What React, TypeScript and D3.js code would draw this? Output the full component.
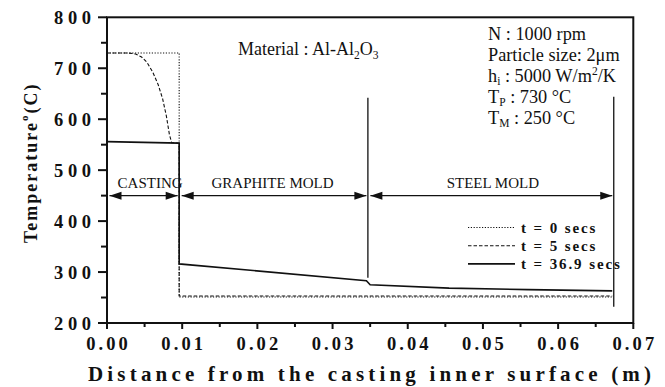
import React from "react";
import * as d3 from "d3";

// Temperature profiles across casting + graphite mold + steel mold
const t0X = [0, 0.0096, 0.0096, 0.0672];
const t0T = [730, 730, 251, 251];

const t5X = [0, 0.0028, 0.0038, 0.0046, 0.0053, 0.0061, 0.0068, 0.0074, 0.0079, 0.0083, 0.0086, 0.0096, 0.0096, 0.0672];
const t5T = [730, 730, 728, 722, 712, 692, 668, 640, 606, 570, 554, 553, 253, 253];

const t36X = [0, 0.0096, 0.0096, 0.0345, 0.035, 0.0455, 0.056, 0.0672];
const t36T = [556, 553, 316, 283, 275, 268.5, 265.5, 263];

const seriesLabels = ["t = 0 secs", "t = 5 secs", "t = 36.9 secs"];

// Region bands (m) and arrow level (°C)
const regionNames = ["CASTING", "GRAPHITE MOLD", "STEEL MOLD"];
const regionStart = [0, 0.0096, 0.0347];
const regionEnd = [0.0096, 0.0347, 0.0674];
const regionLabelShift = [7, -1, 2];
const arrowTemp = 450;

// Interface marker lines
const boundaryX = [0.0347, 0.0674];
const boundaryTop = [642, 644];
const boundaryBottom = [289, 232];

const xTicks = [0, 0.01, 0.02, 0.03, 0.04, 0.05, 0.06, 0.07];
const xMinor = [0.005, 0.015, 0.025, 0.035, 0.045, 0.055, 0.065];
const yTicks = [200, 300, 400, 500, 600, 700, 800];
const yMinor = [250, 350, 450, 550, 650, 750];

const SERIF = "Liberation Serif, Tinos, Times New Roman, DejaVu Serif, serif";

export default function App() {
  const W = 665, H = 387;
  const left = 107, right = 633.3, top = 17.3, bottom = 323;
  const x = d3.scaleLinear().domain([0, 0.07]).range([left, right]);
  const y = d3.scaleLinear().domain([200, 800]).range([bottom, top]);

  const line = d3.line<[number, number]>().x(d => x(d[0])).y(d => y(d[1]));
  const mk = (xs: number[], ts: number[]) => xs.map((v, i) => [v, ts[i]] as [number, number]);

  const series = [
    { d: line(mk(t0X, t0T)), dash: "1.2,1.6", w: 1.1 },
    { d: line(mk(t5X, t5T)), dash: "3.5,2", w: 1.1 },
    { d: line(mk(t36X, t36T)), dash: undefined, w: 1.6 },
  ];

  const ay = y(arrowTemp);
  const ah = 12, aw = 4;

  return (
    <svg width={W} height={H} style={{ position: "absolute", left: 0, top: 0, background: "#fff", fontFamily: SERIF }}>
      {/* frame */}
      <rect x={left} y={top} width={right - left} height={bottom - top} fill="none" stroke="#111" strokeWidth={2} />

      {/* y ticks */}
      {yTicks.map(t => (
        <g key={"yt" + t}>
          <line x1={left - 9} x2={left} y1={y(t)} y2={y(t)} stroke="#111" strokeWidth={2} />
          <text x={91} y={y(t) + 6.5} textAnchor="end" fontWeight="bold" fontSize={18.5}
            textLength={37} lengthAdjust="spacing" fill="#111">{t}</text>
        </g>
      ))}
      {yMinor.map(t => (
        <line key={"ym" + t} x1={left - 6} x2={left} y1={y(t)} y2={y(t)} stroke="#111" strokeWidth={2} />
      ))}

      {/* x ticks */}
      {xTicks.map(t => (
        <g key={"xt" + t}>
          <line x1={x(t)} x2={x(t)} y1={bottom} y2={bottom + 6} stroke="#111" strokeWidth={2} />
          <text x={x(t)} y={350} textAnchor="middle" fontWeight="bold" fontSize={18.5}
            textLength={41.7} lengthAdjust="spacing" fill="#111">{d3.format(".2f")(t)}</text>
        </g>
      ))}
      {xMinor.map(t => (
        <line key={"xm" + t} x1={x(t)} x2={x(t)} y1={bottom} y2={bottom + 4} stroke="#111" strokeWidth={2} />
      ))}

      {/* axis titles */}
      <text x={88} y={381} fontWeight="bold" fontSize={21} textLength={563}
        lengthAdjust="spacing" fill="#111">Distance from the casting inner surface (m)</text>
      <text transform="translate(37,243) rotate(-90)" fontWeight="bold" fontSize={18}
        letterSpacing={2} fill="#111">
        Temperature<tspan fontSize={11} dy={-9}>o</tspan><tspan dy={9}>(C)</tspan>
      </text>

      {/* interface lines */}
      {boundaryX.map((b, i) => (
        <line key={"b" + i} x1={x(b)} x2={x(b)} y1={y(boundaryTop[i])} y2={y(boundaryBottom[i])}
          stroke="#111" strokeWidth={1.3} />
      ))}

      {/* region arrows */}
      {regionNames.map((name, i) => {
        const x0 = x(regionStart[i]) + 2.5, x1 = x(regionEnd[i]) - 1.5;
        return (
          <g key={name}>
            <line x1={x0} x2={x1} y1={ay} y2={ay} stroke="#111" strokeWidth={1.3} />
            <polygon points={`${x0},${ay} ${x0 + ah},${ay - aw} ${x0 + ah},${ay + aw}`} fill="#111" />
            <polygon points={`${x1},${ay} ${x1 - ah},${ay - aw} ${x1 - ah},${ay + aw}`} fill="#111" />
            <text x={(x(regionStart[i]) + x(regionEnd[i])) / 2 + regionLabelShift[i]} y={ay - 8}
              textAnchor="middle" fontSize={15} fill="#111">{name}</text>
          </g>
        );
      })}

      {/* series */}
      {series.map((s, i) => (
        <path key={"s" + i} d={s.d || ""} fill="none" stroke="#111" strokeWidth={s.w}
          strokeDasharray={s.dash} />
      ))}

      {/* legend */}
      {series.map((s, i) => {
        const ly = 227.5 + i * 18.2;
        return (
          <g key={"lg" + i}>
            <line x1={468} x2={515} y1={ly} y2={ly} stroke="#111" strokeWidth={s.w} strokeDasharray={s.dash} />
            <text x={521} y={ly + 5} fontWeight="bold" fontSize={15} letterSpacing={1.9}
              fill="#111">{seriesLabels[i]}</text>
          </g>
        );
      })}

      {/* annotations */}
      <text x={238} y={55} fontSize={18} fill="#111">
        Material : Al-Al<tspan fontSize={11.5} dy={4}>2</tspan><tspan dy={-4}>O</tspan><tspan fontSize={11.5} dy={4}>3</tspan>
      </text>
      <g fontSize={18.3} fill="#111">
        <text x={488} y={40}>N : 1000 rpm</text>
        <text x={488} y={61}>Particle size: 2μm</text>
        <text x={488} y={82}>h<tspan fontSize={11.5} dy={3}>i</tspan><tspan dy={-3}> : 5000 W/m</tspan><tspan fontSize={11.5} dy={-7}>2</tspan><tspan dy={7}>/K</tspan></text>
        <text x={488} y={103}>T<tspan fontSize={11.5} dy={3}>P</tspan><tspan dy={-3}> : 730 °C</tspan></text>
        <text x={488} y={124}>T<tspan fontSize={11.5} dy={3}>M</tspan><tspan dy={-3}> : 250 °C</tspan></text>
      </g>
    </svg>
  );
}
